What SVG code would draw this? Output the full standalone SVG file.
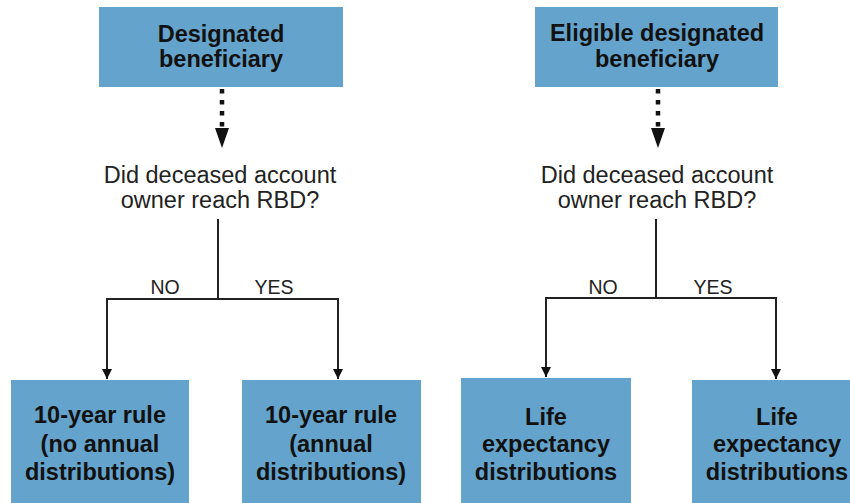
<svg xmlns="http://www.w3.org/2000/svg" width="850" height="503" viewBox="0 0 850 503">
<defs>
<style>
.box{fill:#64a3cb;}
.lbl{font-family:"Liberation Sans",Arial,sans-serif;font-weight:bold;font-size:23.5px;fill:#111;text-anchor:middle;}
.q{font-family:"Liberation Sans",Arial,sans-serif;font-size:23.5px;fill:#222;text-anchor:middle;}
.yn{font-family:"Liberation Sans",Arial,sans-serif;font-size:19.5px;fill:#222;text-anchor:middle;}
.thin{fill:none;stroke:#222;stroke-width:2;}
.dot{fill:none;stroke:#111;stroke-width:4.5;stroke-dasharray:4.5 6.5;}
</style>
<marker id="ah" markerWidth="10" markerHeight="10" refX="10" refY="5" orient="auto" markerUnits="userSpaceOnUse">
<path d="M0,0 L10,5 L0,10 Z" fill="#111"/>
</marker>
<marker id="ahBig" markerWidth="20" markerHeight="16" refX="20" refY="8" orient="auto" markerUnits="userSpaceOnUse">
<path d="M0,0.5 L20,8 L0,15.5 Z" fill="#111"/>
</marker>
</defs>
<rect width="850" height="503" fill="#ffffff"/>

<g id="connectors">
<line class="dot" x1="222" y1="89" x2="222" y2="128"/>
<path d="M215,128 L229,128 L222,148 Z" fill="#111"/>
<line class="dot" x1="658" y1="89" x2="658" y2="128"/>
<path d="M651,128 L665,128 L658,148 Z" fill="#111"/>
<path class="thin" d="M218,219 L218,299"/>
<path class="thin" d="M218,299 L107,299 L107,379" marker-end="url(#ah)"/>
<path class="thin" d="M218,299 L338,299 L338,379" marker-end="url(#ah)"/>
<path class="thin" d="M656,219 L656,298"/>
<path class="thin" d="M656,298 L546,298 L546,377" marker-end="url(#ah)"/>
<path class="thin" d="M656,298 L776,298 L776,379" marker-end="url(#ah)"/>
<text class="yn" x="165" y="294">NO</text>
<text class="yn" x="274" y="294">YES</text>
<text class="yn" x="603" y="294">NO</text>
<text class="yn" x="713" y="294">YES</text>
</g>

<g id="designated">
<rect class="box" x="99" y="7" width="244" height="80"/>
<text class="lbl" x="221" y="42">Designated</text>
<text class="lbl" x="221" y="67">beneficiary</text>
</g>

<g id="eligible">
<rect class="box" x="535" y="7" width="243" height="80"/>
<text class="lbl" x="657" y="41">Eligible designated</text>
<text class="lbl" x="657" y="67">beneficiary</text>
</g>

<g id="question-left">
<text class="q" x="220" y="183">Did deceased account</text>
<text class="q" x="220" y="208">owner reach RBD?</text>
</g>

<g id="question-right">
<text class="q" x="657" y="183">Did deceased account</text>
<text class="q" x="657" y="208">owner reach RBD?</text>
</g>

<g id="rule-no-annual">
<rect class="box" x="11" y="380" width="178" height="123"/>
<text class="lbl" x="100" y="423">10-year rule</text>
<text class="lbl" x="100" y="452">(no annual</text>
<text class="lbl" x="100" y="480">distributions)</text>
</g>

<g id="rule-annual">
<rect class="box" x="242" y="380" width="179" height="123"/>
<text class="lbl" x="331" y="423">10-year rule</text>
<text class="lbl" x="331" y="452">(annual</text>
<text class="lbl" x="331" y="480">distributions)</text>
</g>

<g id="life-no">
<rect class="box" x="461" y="378" width="170" height="125"/>
<text class="lbl" x="546" y="425">Life</text>
<text class="lbl" x="546" y="452">expectancy</text>
<text class="lbl" x="546" y="480">distributions</text>
</g>

<g id="life-yes">
<rect class="box" x="692" y="380" width="158" height="123"/>
<text class="lbl" x="777" y="425">Life</text>
<text class="lbl" x="777" y="452">expectancy</text>
<text class="lbl" x="777" y="480">distributions</text>
</g>
</svg>
